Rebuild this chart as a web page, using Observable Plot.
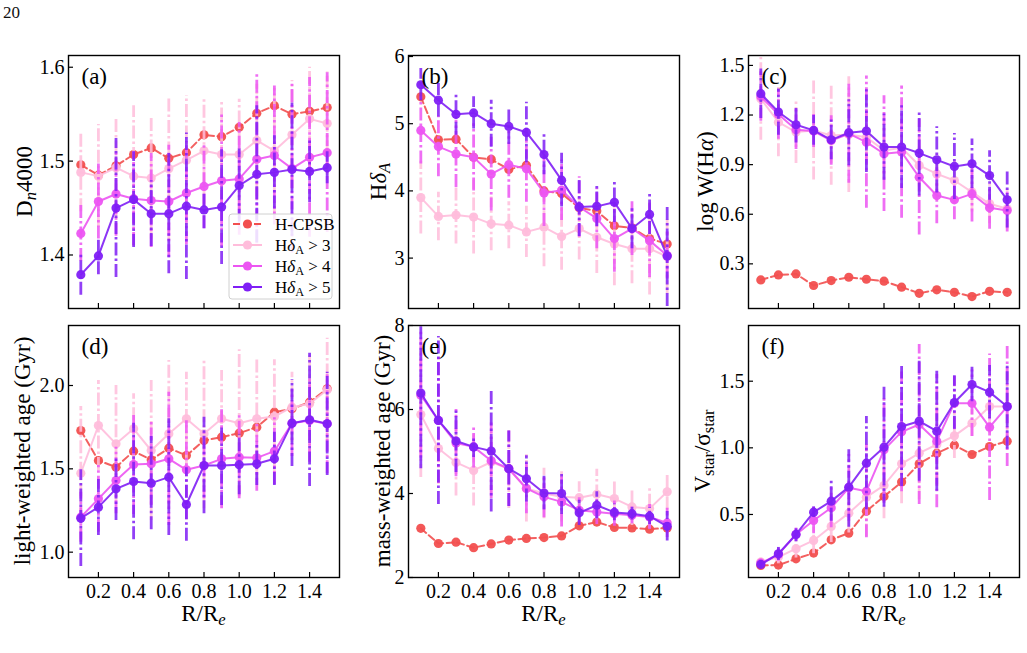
<!DOCTYPE html>
<html>
<head>
<meta charset="utf-8">
<script src="https://cdn.jsdelivr.net/npm/d3@7"></script>
<script src="https://cdn.jsdelivr.net/npm/@observablehq/plot@0.6"></script>
<style>
  html, body { margin: 0; padding: 0; background: #fff; }
  #fig { position: relative; width: 1027px; height: 653px; overflow: hidden; font-family: "Liberation Serif", serif; }
  #page { position: absolute; left: 3px; top: 3px; font-size: 17px; color: #111; }
</style>
</head>
<body>
<div id="fig"><div id="page">20</div></div>
<script>
// Radial bins, in units of the effective radius
const radius = [0.1, 0.2, 0.3, 0.4, 0.5, 0.6, 0.7, 0.8, 0.9, 1.0, 1.1, 1.2, 1.3, 1.4, 1.5];
const xTicks = [0.2, 0.4, 0.6, 0.8, 1.0, 1.2, 1.4];

// (a) Dn4000
const dn_cpsb = [1.496, 1.485, 1.495, 1.507, 1.514, 1.503, 1.509, 1.528, 1.526, 1.536, 1.551, 1.559, 1.550, 1.553, 1.557];
const dn_hd3 = [1.488, 1.484, 1.493, 1.484, 1.482, 1.492, 1.501, 1.511, 1.507, 1.507, 1.522, 1.511, 1.528, 1.545, 1.540];
const dn_hd3_err = [0.042, 0.055, 0.054, 0.075, 0.065, 0.077, 0.069, 0.057, 0.056, 0.059, 0.060, 0.068, 0.058, 0.055, 0.055];
const dn_hd4 = [1.423, 1.457, 1.465, 1.460, 1.458, 1.457, 1.466, 1.473, 1.479, 1.481, 1.502, 1.506, 1.492, 1.504, 1.509];
const dn_hd4_err = [0.030, 0.040, 0.045, 0.050, 0.050, 0.060, 0.055, 0.045, 0.070, 0.060, 0.090, 0.074, 0.090, 0.085, 0.085];
const dn_hd5 = [1.379, 1.399, 1.450, 1.459, 1.444, 1.444, 1.452, 1.448, 1.451, 1.474, 1.486, 1.488, 1.491, 1.489, 1.493];
const dn_hd5_err = [0.022, 0.020, 0.074, 0.051, 0.035, 0.064, 0.078, 0.020, 0.061, 0.039, 0.073, 0.039, 0.071, 0.033, 0.017];

// (b) HdeltaA
const hda_cpsb = [5.40, 4.76, 4.77, 4.50, 4.47, 4.32, 4.38, 4.00, 3.96, 3.75, 3.70, 3.48, 3.45, 3.29, 3.21];
const hda_hd3 = [3.90, 3.62, 3.64, 3.61, 3.51, 3.49, 3.39, 3.46, 3.32, 3.44, 3.31, 3.21, 3.14, 3.14, 3.02];
const hda_hd3_err = [0.54, 0.36, 0.43, 0.55, 0.40, 0.35, 0.38, 0.59, 0.50, 0.47, 0.54, 0.62, 0.52, 0.69, 0.55];
const hda_hd4 = [4.90, 4.66, 4.55, 4.50, 4.25, 4.39, 4.33, 3.97, 4.01, 3.76, 3.59, 3.29, 3.44, 3.26, 3.04];
const hda_hd4_err = [0.50, 0.45, 0.50, 0.50, 0.55, 0.50, 0.50, 0.50, 0.45, 0.45, 0.45, 0.50, 0.40, 0.55, 0.35];
const hda_hd5 = [5.58, 5.35, 5.14, 5.16, 5.00, 4.96, 4.87, 4.54, 4.16, 3.76, 3.77, 3.83, 3.44, 3.65, 3.03];
const hda_hd5_err = [0.24, 0.25, 0.31, 0.24, 0.35, 0.27, 0.45, 0.30, 0.40, 0.44, 0.30, 0.30, 0.30, 0.30, 0.75];

// (c) log W(Halpha)
const wha_cpsb = [0.203, 0.233, 0.239, 0.169, 0.199, 0.219, 0.207, 0.195, 0.159, 0.122, 0.143, 0.128, 0.102, 0.134, 0.128];
const wha_hd3 = [1.298, 1.157, 1.097, 1.107, 1.076, 1.082, 1.066, 0.986, 1.002, 0.895, 0.844, 0.804, 0.734, 0.663, 0.633];
const wha_hd3_err = [0.25, 0.21, 0.19, 0.30, 0.30, 0.35, 0.16, 0.16, 0.13, 0.13, 0.12, 0.12, 0.12, 0.12, 0.12];
const wha_hd4 = [1.312, 1.204, 1.111, 1.103, 1.046, 1.087, 1.036, 0.966, 0.976, 0.824, 0.713, 0.687, 0.723, 0.639, 0.623];
const wha_hd4_err = [0.15, 0.15, 0.12, 0.10, 0.15, 0.30, 0.40, 0.35, 0.40, 0.35, 0.17, 0.12, 0.17, 0.13, 0.13];
const wha_hd5 = [1.329, 1.218, 1.141, 1.107, 1.050, 1.093, 1.103, 1.006, 1.006, 0.970, 0.929, 0.889, 0.905, 0.834, 0.687];
const wha_hd5_err = [0.15, 0.14, 0.11, 0.09, 0.12, 0.20, 0.25, 0.20, 0.25, 0.26, 0.20, 0.20, 0.15, 0.15, 0.17];

// (d) light-weighted age (Gyr)
const lw_cpsb = [1.73, 1.55, 1.51, 1.606, 1.554, 1.624, 1.58, 1.67, 1.69, 1.714, 1.75, 1.84, 1.86, 1.90, 1.98];
const lw_hd3 = [1.474, 1.76, 1.65, 1.74, 1.61, 1.71, 1.80, 1.71, 1.80, 1.774, 1.80, 1.814, 1.87, 1.89, 1.974];
const lw_hd3_err = [0.40, 0.27, 0.35, 0.21, 0.42, 0.44, 0.28, 0.45, 0.29, 0.44, 0.37, 0.34, 0.21, 0.29, 0.31];
const lw_hd4 = [1.21, 1.32, 1.43, 1.526, 1.53, 1.56, 1.494, 1.52, 1.56, 1.57, 1.566, 1.606, 1.774, 1.79, 1.77];
const lw_hd4_err = [0.15, 0.20, 0.20, 0.30, 0.25, 0.40, 0.30, 0.20, 0.30, 0.25, 0.20, 0.20, 0.20, 0.25, 0.30];
const lw_hd5 = [1.204, 1.27, 1.38, 1.424, 1.414, 1.45, 1.286, 1.52, 1.52, 1.524, 1.53, 1.56, 1.774, 1.794, 1.77];
const lw_hd5_err = [0.29, 0.17, 0.19, 0.35, 0.28, 0.35, 0.22, 0.29, 0.24, 0.18, 0.13, 0.16, 0.26, 0.40, 0.31];

// (e) mass-weighted age (Gyr)
const mw_cpsb = [3.17, 2.81, 2.84, 2.71, 2.80, 2.89, 2.93, 2.95, 2.99, 3.23, 3.32, 3.19, 3.18, 3.15, 3.18];
const mw_hd3 = [5.88, 5.07, 4.74, 4.55, 4.75, 4.59, 4.12, 4.00, 3.92, 3.90, 3.98, 3.88, 3.68, 3.64, 4.04];
const mw_hd3_err = [1.50, 0.85, 0.80, 0.85, 0.75, 0.95, 0.80, 0.60, 0.60, 0.38, 0.60, 0.43, 0.44, 0.48, 0.43];
const mw_hd4 = [6.34, 5.74, 5.20, 5.11, 4.78, 4.59, 4.12, 3.92, 3.80, 3.60, 3.56, 3.52, 3.48, 3.44, 3.30];
const mw_hd4_err = [1.50, 1.50, 0.80, 0.50, 0.90, 0.90, 0.60, 0.50, 0.60, 0.30, 0.30, 0.30, 0.20, 0.30, 0.35];
const mw_hd5 = [6.39, 5.74, 5.25, 5.11, 5.01, 4.59, 4.35, 4.01, 4.00, 3.54, 3.72, 3.55, 3.52, 3.46, 3.22];
const mw_hd5_err = [1.80, 2.00, 0.75, 0.25, 1.45, 0.90, 0.55, 0.40, 0.50, 0.30, 0.32, 0.20, 0.15, 0.20, 0.35];

// (f) V_star / sigma_star
const vs_cpsb = [0.117, 0.120, 0.167, 0.210, 0.310, 0.360, 0.525, 0.635, 0.743, 0.880, 0.960, 1.020, 0.950, 1.010, 1.050];
const vs_hd3 = [0.143, 0.180, 0.243, 0.305, 0.410, 0.510, 0.630, 0.718, 0.880, 0.960, 1.025, 1.090, 1.185, 1.310, 1.310];
const vs_hd3_err = [0.03, 0.05, 0.07, 0.10, 0.12, 0.15, 0.30, 0.25, 0.30, 0.35, 0.30, 0.17, 0.10, 0.20, 0.30];
const vs_hd4 = [0.135, 0.200, 0.350, 0.455, 0.550, 0.700, 0.675, 0.985, 1.120, 1.175, 1.050, 1.335, 1.335, 1.155, 1.310];
const vs_hd4_err = [0.03, 0.05, 0.05, 0.10, 0.15, 0.25, 0.35, 0.40, 0.45, 0.60, 0.50, 0.20, 0.25, 0.55, 0.45];
const vs_hd5 = [0.125, 0.205, 0.350, 0.517, 0.600, 0.705, 0.885, 1.005, 1.160, 1.200, 1.125, 1.340, 1.475, 1.418, 1.310];
const vs_hd5_err = [0.03, 0.05, 0.055, 0.04, 0.15, 0.30, 0.35, 0.45, 0.45, 0.45, 0.45, 0.20, 0.13, 0.20, 0.32];

const colors = {cpsb: "#f24f4f", hd3: "#ffbddb", hd4: "#ec55f2", hd5: "#7f1ff5"};
const seriesOrder = ["cpsb", "hd3", "hd4", "hd5"];

const fig = document.getElementById("fig");
const FONT = "Liberation Serif, Times New Roman, serif";
const TICK_FS = 20, LABEL_FS = 23;

// Writes a run of text pieces (plain / italic / subscript) into an SVG text node
function richText(sel, parts) {
  for (const p of parts) {
    const t = sel.append("tspan").text(p.t);
    if (p.i) t.attr("font-style", "italic");
    if (p.sub) t.attr("font-size", "72%").attr("baseline-shift", "-22%");
  }
  return sel;
}

function panel(cfg) {
  const colLeft = [0, 340, 680][cfg.col];
  const top = [40, 300][cfg.row];
  const mL = 68, plotW = 271, W = 345;
  const mT = cfg.row === 0 ? 15 : 25;
  const plotH = cfg.row === 0 ? 253 : 252;
  const H = cfg.row === 0 ? 278 : 340;
  const mB = H - mT - plotH;

  const table = [];
  for (const k of seriesOrder) {
    const vals = cfg.series[k], errs = cfg.errors[k];
    radius.forEach((r, i) => table.push({key: k, r, v: vals[i], e: errs ? errs[i] : 0}));
  }

  const marks = [];
  for (const k of seriesOrder) {
    const d = table.filter(t => t.key === k);
    if (cfg.errors[k]) {
      marks.push(Plot.ruleX(d, {
        x: "r", y1: t => t.v - t.e, y2: t => t.v + t.e,
        stroke: colors[k], strokeWidth: 2.8, strokeOpacity: 0.85,
        strokeDasharray: "13,3,2.5,3", clip: true
      }));
    }
    marks.push(Plot.line(d, {
      x: "r", y: "v", stroke: colors[k], strokeWidth: 2, strokeOpacity: 0.9,
      strokeDasharray: k === "cpsb" ? "7,3.5" : null, clip: true
    }));
    marks.push(Plot.dot(d, {x: "r", y: "v", r: 4.6, fill: colors[k], fillOpacity: 0.95, stroke: "none"}));
  }

  // inward ticks on the bottom and left edges
  marks.push(Plot.tickX(xTicks, {x: d => d, insetTop: plotH - 5, stroke: "#000", strokeWidth: 1.2}));
  marks.push(Plot.tickY(cfg.yTicks, {y: d => d, insetRight: plotW - 5, stroke: "#000", strokeWidth: 1.2}));
  marks.push(Plot.axisY(cfg.yTicks, {tickSize: 0, tickPadding: 4, fontSize: TICK_FS, tickFormat: cfg.yFormat, label: null}));
  if (cfg.row === 1) {
    marks.push(Plot.axisX(xTicks, {tickSize: 0, tickPadding: 6, fontSize: TICK_FS, tickFormat: ".1f", label: null}));
  }
  marks.push(Plot.frame({stroke: "#000", strokeWidth: 1.4}));
  marks.push(Plot.text([cfg.letter], {text: d => d, frameAnchor: "top-left", lineAnchor: "top", dx: 13, dy: 12, fontSize: 23, fill: "#000"}));

  const svg = Plot.plot({
    width: W, height: H,
    marginLeft: mL, marginRight: W - mL - plotW, marginTop: mT, marginBottom: mB,
    style: {fontFamily: FONT, background: "transparent", color: "#000", overflow: "visible"},
    x: {domain: [0.03, 1.57], axis: cfg.row === 1 ? undefined : null, label: null},
    y: {domain: cfg.yDomain, label: null},
    marks
  });
  svg.style.position = "absolute";
  svg.style.left = colLeft + "px";
  svg.style.top = top + "px";
  fig.appendChild(svg);

  const s = d3.select(svg);
  // y-axis title
  const yl = s.append("text")
    .attr("transform", `translate(${cfg.yLabelX},${mT + plotH / 2}) rotate(-90)`)
    .attr("text-anchor", "middle").attr("font-size", LABEL_FS).attr("font-family", FONT).attr("fill", "#000");
  richText(yl, cfg.yLabel);

  // x-axis title on the bottom row
  if (cfg.row === 1) {
    const xl = s.append("text")
      .attr("x", mL + plotW / 2).attr("y", 321)
      .attr("text-anchor", "middle").attr("font-size", LABEL_FS).attr("font-family", FONT).attr("fill", "#000");
    richText(xl, [{t: "R/R"}, {t: "e", i: true, sub: true}]);
  }
  return s;
}

const HdA = n => [{t: "H"}, {t: "δ", i: true}, {t: "A", sub: true}, {t: " > " + n}];

const pa = panel({
  col: 0, row: 0, letter: "(a)",
  yDomain: [1.343, 1.6125], yTicks: [1.4, 1.5, 1.6], yFormat: ".1f",
  series: {cpsb: dn_cpsb, hd3: dn_hd3, hd4: dn_hd4, hd5: dn_hd5},
  errors: {hd3: dn_hd3_err, hd4: dn_hd4_err, hd5: dn_hd5_err},
  yLabel: [{t: "D"}, {t: "n", i: true, sub: true}, {t: "4000"}], yLabelX: 32
});
panel({
  col: 1, row: 0, letter: "(b)",
  yDomain: [2.25, 6.015], yTicks: [3, 4, 5, 6], yFormat: "d",
  series: {cpsb: hda_cpsb, hd3: hda_hd3, hd4: hda_hd4, hd5: hda_hd5},
  errors: {hd3: hda_hd3_err, hd4: hda_hd4_err, hd5: hda_hd5_err},
  yLabel: [{t: "H"}, {t: "δ", i: true}, {t: "A", i: true, sub: true}], yLabelX: 46
});
panel({
  col: 2, row: 0, letter: "(c)",
  yDomain: [0.03, 1.56], yTicks: [0.3, 0.6, 0.9, 1.2, 1.5], yFormat: ".1f",
  series: {cpsb: wha_cpsb, hd3: wha_hd3, hd4: wha_hd4, hd5: wha_hd5},
  errors: {hd3: wha_hd3_err, hd4: wha_hd4_err, hd5: wha_hd5_err},
  yLabel: [{t: "log W(H"}, {t: "α", i: true}, {t: ")"}], yLabelX: 33
});
panel({
  col: 0, row: 1, letter: "(d)",
  yDomain: [0.848, 2.36], yTicks: [1.0, 1.5, 2.0], yFormat: ".1f",
  series: {cpsb: lw_cpsb, hd3: lw_hd3, hd4: lw_hd4, hd5: lw_hd5},
  errors: {hd3: lw_hd3_err, hd4: lw_hd4_err, hd5: lw_hd5_err},
  yLabel: [{t: "light-weighted age (Gyr)"}], yLabelX: 30
});
panel({
  col: 1, row: 1, letter: "(e)",
  yDomain: [2, 8], yTicks: [2, 4, 6, 8], yFormat: "d",
  series: {cpsb: mw_cpsb, hd3: mw_hd3, hd4: mw_hd4, hd5: mw_hd5},
  errors: {hd3: mw_hd3_err, hd4: mw_hd4_err, hd5: mw_hd5_err},
  yLabel: [{t: "mass-weighted age (Gyr)"}], yLabelX: 50
});
panel({
  col: 2, row: 1, letter: "(f)",
  yDomain: [0.027, 1.918], yTicks: [0.5, 1.0, 1.5], yFormat: ".1f",
  series: {cpsb: vs_cpsb, hd3: vs_hd3, hd4: vs_hd4, hd5: vs_hd5},
  errors: {hd3: vs_hd3_err, hd4: vs_hd4_err, hd5: vs_hd5_err},
  yLabel: [{t: "V"}, {t: "star", sub: true}, {t: "/σ"}, {t: "star", sub: true}], yLabelX: 30
});

// Legend inside panel (a)
const leg = pa.append("g").attr("font-family", FONT).attr("text-anchor", "start");
leg.append("rect").attr("x", 229).attr("y", 174).attr("width", 103).attr("height", 85)
  .attr("rx", 3).attr("fill", "#fff").attr("fill-opacity", 0.85).attr("stroke", "#d0d0d0");
const legendItems = [
  {key: "cpsb", label: [{t: "H-CPSB"}]},
  {key: "hd3", label: HdA(3)},
  {key: "hd4", label: HdA(4)},
  {key: "hd5", label: HdA(5)}
];
legendItems.forEach((it, i) => {
  const y = 184 + i * 21;
  leg.append("line").attr("x1", 233).attr("x2", 262).attr("y1", y).attr("y2", y)
    .attr("stroke", colors[it.key]).attr("stroke-width", 2)
    .attr("stroke-dasharray", it.key === "cpsb" ? "7,3.5" : null);
  leg.append("circle").attr("cx", 247.5).attr("cy", y).attr("r", 4.6).attr("fill", colors[it.key]);
  const t = leg.append("text").attr("x", 275).attr("y", y + 6).attr("font-size", 17).attr("fill", "#000");
  richText(t, it.label);
});
</script>
</body>
</html>
